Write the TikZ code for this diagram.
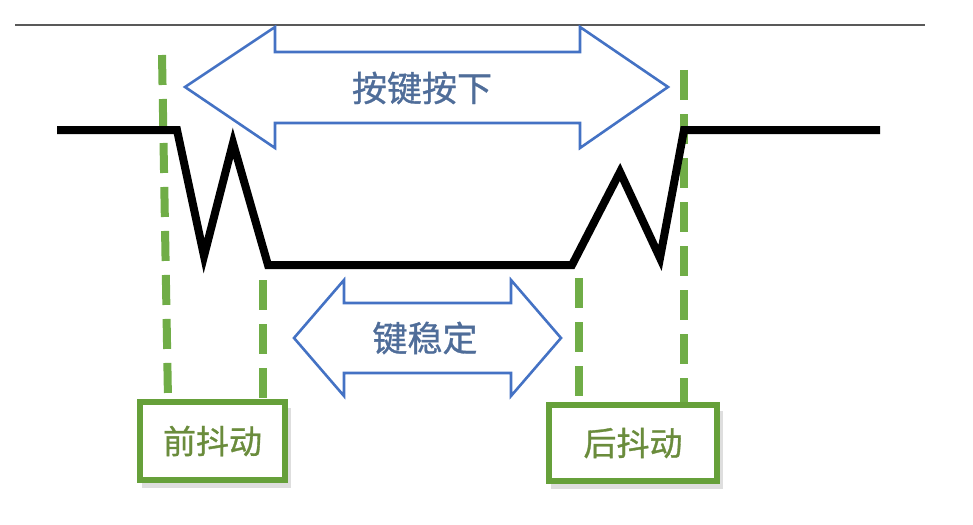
\documentclass[tikz,border=0pt]{standalone}
\usepackage{fontspec}
\newfontfamily\cjk[FakeBold=0.9]{Noto Sans CJK SC}
\definecolor{arrowblue}{HTML}{4472C4}
\definecolor{textblue}{HTML}{4F6D99}
\definecolor{lgreen}{HTML}{70AD47}
\definecolor{boxgreen}{HTML}{66A03A}
\definecolor{textgreen}{HTML}{6A8C3C}
\tikzset{
  px/.style={x=1pt,y=-1pt},
  wave/.style={line width=8pt,black,line join=miter,miter limit=10},
  dashv/.style={line width=8pt,lgreen,dash pattern=on 30pt off 14pt},
  fatarrow/.style={draw=arrowblue,line width=2.6pt,fill=white,line join=miter},
  arrowtext/.style={font=\cjk\fontsize{35}{38}\selectfont,text=textblue},
  phasebox/.style={draw=boxgreen,line width=5.5pt,fill=white,font=\cjk\fontsize{33}{36}\selectfont,text=textgreen,inner sep=0pt},
  boxshadow/.style={fill=black,opacity=0.13},
}
\begin{document}
\begin{tikzpicture}[px]
\useasboundingbox (0,0) rectangle (973,524);
% top rule
\coordinate (r1) at (15,25);
\coordinate (r2) at (925,25);
\draw[line width=1.5pt,black!65] (r1) -- (r2);
% big arrow
\draw[fatarrow] (185,87) -- (275,27) -- (275,52) -- (580,52) -- (580,27) -- (668,87)
  -- (580,148) -- (580,123) -- (275,123) -- (275,148) -- cycle;
\node[arrowtext] (t1) at (422,88) {按键按下};
% small arrow
\draw[fatarrow] (294,338) -- (344,280) -- (344,303) -- (511,303) -- (511,280) -- (561,338)
  -- (511,396) -- (511,373) -- (344,373) -- (344,396) -- cycle;
\node[arrowtext] (t2) at (425,338) {键稳定};
% box shadows
\fill[boxshadow] (142,408) rectangle (291,488);
\fill[boxshadow] (551,411) rectangle (723,489);
% boxes
\node[phasebox,minimum width=145pt,minimum height=78pt] (b1) at (212.5,441) {前抖动};
\node[phasebox,minimum width=168pt,minimum height=76pt] (b2) at (633,443) {后抖动};
% dashed markers
\coordinate (d1) at (162,55);
\coordinate (d2) at (263,280);
\coordinate (d3) at (579,278);
\coordinate (d4) at (684,70);
\draw[dashv] (d1) -- (168,400);
\draw[dashv] (d2) -- (d2 |- b1.north);
\draw[dashv] (d3) -- (d3 |- b2.north);
\draw[dashv] (d4) -- (d4 |- b2.north);
% waveform
\coordinate (w0) at (57,130);
\coordinate (w1) at (177,130);
\coordinate (w2) at (204,256);
\coordinate (w3) at (233,143);
\coordinate (w4) at (268,265);
\coordinate (w5) at (572,265);
\coordinate (w6) at (620,172);
\coordinate (w7) at (660,258);
\coordinate (w8) at (684,130);
\coordinate (w9) at (880,130);
\draw[wave] (w0) -- (w1) -- (w2) -- (w3) -- (w4) -- (w5) -- (w6) -- (w7) -- (w8) -- (w9);
\end{tikzpicture}
\end{document}
